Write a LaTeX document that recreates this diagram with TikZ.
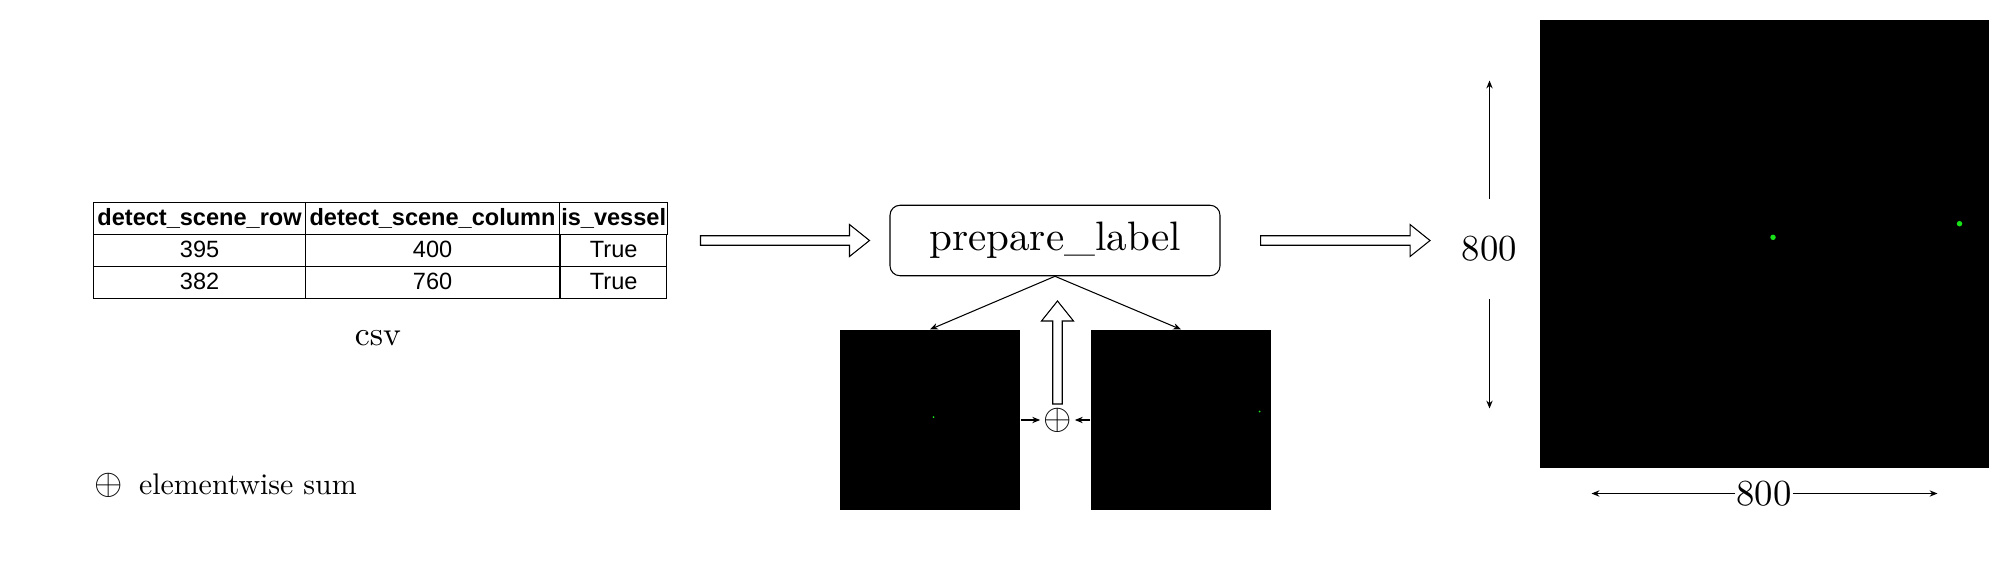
\documentclass[tikz,border=0pt]{standalone}
\usepackage{fontspec}
\setmainfont{lmroman10-regular.otf}
\usetikzlibrary{matrix,arrows.meta,calc}
\newfontfamily\tabfont{Liberation Sans}
\definecolor{dotgreen}{RGB}{25,225,25}

\tikzset{
    cell/.style={draw, inner sep=1pt, minimum height=0.64cm, text height=9.6pt, text depth=1.6pt,
        font=\tabfont\fontsize{13.4}{16}\selectfont},
    img/.style={fill=black, inner sep=0pt, minimum size=#1},
    dimlabel/.style={font=\fontsize{20.9}{24}\selectfont},
    pics/fatarrow/.style={code={
        \draw[fill=white] (0,-0.095) -- ({#1-0.4},-0.095) -- ({#1-0.4},-0.32) -- (#1,0)
            -- ({#1-0.4},0.32) -- ({#1-0.4},0.095) -- (0,0.095) -- cycle;
    }},
}

\begin{document}
\begin{tikzpicture}[line width=0.6pt, >={Stealth[length=4.5pt,width=3.6pt]}]
    \useasboundingbox (0,0) rectangle (40.2,-11.68);
    % csv table
    \matrix (csvtab) [matrix of nodes, anchor=north west, inner sep=0pt,
        column sep=-0.6pt, row sep=-0.6pt, nodes={cell},
        row 1/.style={nodes={font=\tabfont\fontsize{13.4}{16}\selectfont\bfseries}},
        column 1/.style={nodes={minimum width=4.24cm}},
        column 2/.style={nodes={minimum width=5.08cm}},
        column 3/.style={nodes={minimum width=2.11cm}}] at (1.85,-4.03) {
        detect\_scene\_row & detect\_scene\_column & is\_vessel \\
        395 & 400 & True \\
        382 & 760 & True \\
    };
    \node (csvname) at (7.56,-6.76) {\fontsize{19.2}{23}\selectfont csv};
    % labelling step
    \node[draw, rounded corners=0.2cm, minimum width=6.6cm, minimum height=1.41cm,
        font=\fontsize{23.4}{28}\selectfont] (prep) at (21.1,-4.81) {prepare\_label};
    \pic at ($(prep.west)+(-3.78,0)$) {fatarrow=3.38};
    \pic at ($(prep.east)+(0.8,0)$) {fatarrow=3.39};
    % one mask per detection
    \node[img=3.6cm] (limg) at (18.6,-8.4) {};
    \node[img=3.6cm] (rimg) at (23.62,-8.4) {};
    \fill[dotgreen] (18.67,-8.34) circle (0.02);
    \fill[dotgreen] (25.19,-8.23) circle (0.02);
    \node[inner sep=1.5pt, font=\fontsize{20.5}{24}\selectfont] (sum) at (21.15,-8.4) {$\oplus$};
    \draw[->] (prep.south) -- (limg.north);
    \draw[->] (prep.south) -- (rimg.north);
    \draw[->] (limg.east) -- (sum.west);
    \draw[->] (rimg.west) -- (sum.east);
    \pic[rotate=90] at (21.15,-8.08) {fatarrow=2.06};
    % resulting label
    \node[fill=black, inner sep=0pt, minimum width=8.98cm, minimum height=8.96cm] (bigimg) at (35.29,-4.884) {};
    \fill[dotgreen] (35.46,-4.746) circle (0.055);
    \fill[dotgreen] (39.19,-4.474) circle (0.055);
    \node[dimlabel, inner ysep=0.74cm] (hdim) at (29.79,-4.98) {800};
    \coordinate (htop) at (29.79,-1.61);
    \coordinate (hbot) at (29.79,-8.17);
    \draw[->] (hdim.north) -- (htop);
    \draw[->] (hdim.south) -- (hbot);
    \node[dimlabel, inner xsep=0.5pt] (wdim) at (35.28,-9.87) {800};
    \coordinate (wleft) at (31.83,-9.87);
    \coordinate (wright) at (38.75,-9.87);
    \draw[->] (wdim.west) -- (wleft);
    \draw[->] (wdim.east) -- (wright);
    % legend
    \node[inner sep=0pt, font=\fontsize{21}{24}\selectfont] (sumkey) at (2.18,-9.7) {$\oplus$};
    \node[anchor=base west, inner sep=0pt, font=\fontsize{17}{20}\selectfont] (sumtext) at (2.77,-9.886) {elementwise sum};
\end{tikzpicture}
\end{document}
